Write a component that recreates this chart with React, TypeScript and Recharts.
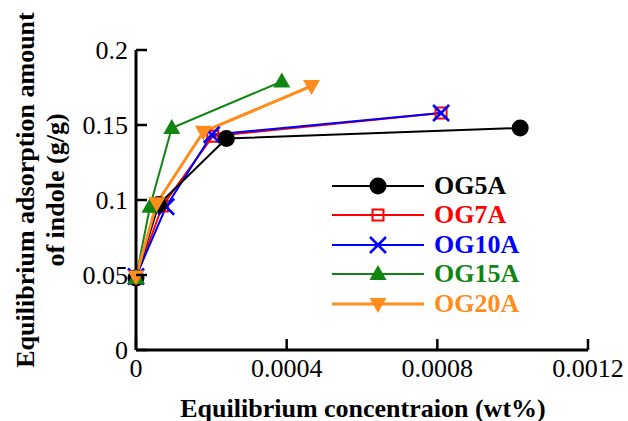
import React from 'react'
import { LineChart, Line, XAxis, YAxis, Label } from 'recharts'

// equilibrium concentration (wt%) / adsorbed amount (g/g)
const og5aX = [0, 0.00006, 0.00024, 0.00102]
const og5aY = [0.048, 0.097, 0.141, 0.148]
const og7aX = [0, 0.00007, 0.000204, 0.00081]
const og7aY = [0.048, 0.096, 0.1425, 0.158]
const og10aX = [0, 0.00008, 0.000201, 0.00081]
const og10aY = [0.049, 0.0955, 0.1435, 0.158]
const og15aX = [0, 0.000037, 0.000095, 0.000387]
const og15aY = [0.048, 0.0955, 0.148, 0.179]
const og20aX = [0, 0.000055, 0.000179, 0.000466]
const og20aY = [0.049, 0.0978, 0.1455, 0.176]

const xTicks = [0, 0.0004, 0.0008, 0.0012]
const yTicks = [0, 0.05, 0.1, 0.15, 0.2]

const toRows = (xs: number[], ys: number[]) => xs.map((x, i) => ({ x, y: ys[i] }))

type Shape = 'circle' | 'square' | 'cross' | 'up' | 'down'

const SERIES: { name: string; color: string; shape: Shape; data: { x: number; y: number }[] }[] = [
  { name: 'OG7A', color: '#ff0000', shape: 'square', data: toRows(og7aX, og7aY) },
  { name: 'OG10A', color: '#0000ff', shape: 'cross', data: toRows(og10aX, og10aY) },
  { name: 'OG5A', color: '#000000', shape: 'circle', data: toRows(og5aX, og5aY) },
  { name: 'OG15A', color: '#118511', shape: 'up', data: toRows(og15aX, og15aY) },
  { name: 'OG20A', color: '#ff8c1c', shape: 'down', data: toRows(og20aX, og20aY) },
]
const LEGEND_ORDER = ['OG5A', 'OG7A', 'OG10A', 'OG15A', 'OG20A']

const PLOT_LEFT = 136
const PLOT_BOTTOM = 350
const FONT = '"Liberation Serif", "Times New Roman", serif'

function Marker({ cx, cy, shape, color }: { cx: number; cy: number; shape: Shape; color: string }) {
  if (cx == null || cy == null) return null
  switch (shape) {
    case 'circle':
      return <circle cx={cx} cy={cy} r={8.5} fill={color} />
    case 'square':
      return <rect x={cx - 5.5} y={cy - 5.5} width={11} height={11} fill="#fff" fillOpacity={0} stroke={color} strokeWidth={2} />
    case 'cross':
      return (
        <path d={`M${cx - 8},${cy - 8}L${cx + 8},${cy + 8}M${cx - 8},${cy + 8}L${cx + 8},${cy - 8}`} stroke={color} strokeWidth={2.5} fill="none" />
      )
    case 'up':
      return <path d={`M${cx},${cy - 9}L${cx + 8.5},${cy + 6}L${cx - 8.5},${cy + 6}Z`} fill={color} />
    case 'down':
      return <path d={`M${cx},${cy + 9}L${cx + 8.5},${cy - 6}L${cx - 8.5},${cy - 6}Z`} fill={color} />
  }
}

const YTick = (props: any) => {
  const { x, y, payload } = props
  return (
    <g>
      <line x1={PLOT_LEFT} x2={PLOT_LEFT + 11} y1={y} y2={y} stroke="#000" strokeWidth={2.5} />
      <text x={x} y={y} dy="0.35em" textAnchor="end" fontFamily={FONT} fontSize={26} fill="#000">
        {String(payload.value)}
      </text>
    </g>
  )
}

const XTick = (props: any) => {
  const { x, y, payload } = props
  return (
    <g>
      <line x1={x} x2={x} y1={PLOT_BOTTOM} y2={PLOT_BOTTOM - 11} stroke="#000" strokeWidth={2.5} />
      <text x={x} y={y} dy="0.72em" textAnchor="middle" fontFamily={FONT} fontSize={26} fill="#000">
        {String(payload.value)}
      </text>
    </g>
  )
}

function LegendBox() {
  return (
    <div style={{ position: 'absolute', left: 330, top: 171, fontFamily: FONT }}>
      {LEGEND_ORDER.map((n) => {
        const s = SERIES.find((d) => d.name === n)!
        return (
          <div key={n} style={{ display: 'flex', alignItems: 'center', height: 29.5 }}>
            <svg width={96} height={24}>
              <line x1={2} x2={94} y1={12} y2={12} stroke={s.color} strokeWidth={s.shape === 'down' ? 3 : 2} />
              <Marker cx={48} cy={12} shape={s.shape} color={s.color} />
            </svg>
            <span style={{ marginLeft: 8, color: s.color, fontWeight: 'bold', fontSize: 26, lineHeight: '24px' }}>{n}</span>
          </div>
        )
      })}
    </div>
  )
}

export default function App() {
  return (
    <div style={{ position: 'relative', width: 628, height: 421 }}>
      <style>{`body{margin:0;background:#fff}`}</style>
      <LineChart width={628} height={421} margin={{ top: 50, right: 40, left: 0, bottom: 0 }}>
        <XAxis
          dataKey="x"
          type="number"
          domain={[0, 0.0012]}
          ticks={xTicks}
          height={71}
          tickLine={false}
          tick={<XTick />}
          axisLine={{ stroke: '#000', strokeWidth: 3 }}
          allowDuplicatedCategory={false}
        >
          <Label
            content={() => (
              <text x={363} y={408} textAnchor="middle" dominantBaseline="central" fontFamily={FONT} fontWeight="bold" fontSize={26} fill="#000">
                Equilibrium concentraion (wt%)
              </text>
            )}
          />
        </XAxis>
        <XAxis xAxisId="top" orientation="top" type="number" domain={[0, 0.0012]} height={0} tick={false} tickLine={false} axisLine={{ stroke: '#000', strokeWidth: 3 }} />
        <YAxis
          type="number"
          domain={[0, 0.2]}
          ticks={yTicks}
          width={136}
          tickLine={false}
          tick={<YTick />}
          axisLine={{ stroke: '#000', strokeWidth: 3 }}
        >
          <Label
            content={() => (
              <g fontFamily={FONT} fontWeight="bold" fontSize={26} fill="#000">
                <text x={25} y={190} transform="rotate(-90 25 190)" textAnchor="middle" dominantBaseline="central">
                  Equilibrium adsorption amount
                </text>
                <text x={55} y={190} transform="rotate(-90 55 190)" textAnchor="middle" dominantBaseline="central">
                  of indole (g/g)
                </text>
              </g>
            )}
          />
        </YAxis>
        <YAxis yAxisId="right" orientation="right" type="number" domain={[0, 0.2]} width={0} tick={false} tickLine={false} axisLine={{ stroke: '#000', strokeWidth: 3 }} />
        {SERIES.map((s) => (
          <Line
            key={s.name}
            data={s.data}
            dataKey="y"
            name={s.name}
            stroke={s.color}
            strokeWidth={s.shape === 'down' ? 3 : 2}
            isAnimationActive={false}
            dot={(p: any) => <Marker key={`${s.name}-${p.index}`} cx={p.cx} cy={p.cy} shape={s.shape} color={s.color} />}
            activeDot={false}
          />
        ))}
      </LineChart>
      <LegendBox />
    </div>
  )
}
